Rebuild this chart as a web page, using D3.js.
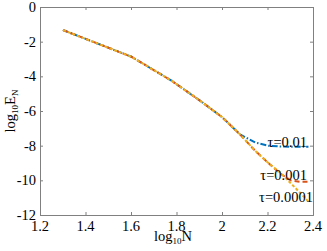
<!DOCTYPE html>
<html>
<head>
<meta charset="utf-8">
<script src="https://cdn.jsdelivr.net/npm/d3@7"></script>
<style>
  body { margin: 0; background: #fff; }
  svg text { font-family: "Liberation Serif", "Times New Roman", serif; fill: #000; }
</style>
</head>
<body>
<script>
// log10 N values (N = 20, 40, ..., 240)
var logN = [1.301, 1.602, 1.778, 1.903, 2.0, 2.079, 2.146, 2.204, 2.255, 2.301, 2.342, 2.380];

// log10 E_N for each tau
var err001   = [-1.33, -2.87, -4.25, -5.4, -6.35, -7.35, -7.82, -8.0, -8.05, -8.06, -8.06, -8.06];
var err0001  = [-1.33, -2.87, -4.25, -5.4, -6.35, -7.35, -8.3, -9.0, -9.6, -10.0, -10.08, -10.08];
var err00001 = [-1.33, -2.87, -4.25, -5.4, -6.35, -7.35, -8.3, -9.0, -9.55, -10.15, -10.7, -11.23];

var xTicks = [1.2, 1.4, 1.6, 1.8, 2, 2.2, 2.4];
var yTicks = [0, -2, -4, -6, -8, -10, -12];

var w = 327, h = 251;
// plot box (note: "top" is reserved on window, so use other names)
var pL = 40, pR = 313, pT = 7, pB = 215;

var x = d3.scaleLinear().domain([1.2, 2.4]).range([pL, pR]);
var y = d3.scaleLinear().domain([-12, 0]).range([pB, pT]);

var svg = d3.select("body").append("svg")
    .attr("width", w)
    .attr("height", h);

var axisColor = "#808080";
var serif = "Liberation Serif, Times New Roman, serif";

// axes (ticks inward, box all round)
svg.append("g")
    .attr("transform", "translate(0," + pB + ")")
    .call(d3.axisBottom(x).tickValues(xTicks).tickSize(-3).tickFormat(""));
svg.append("g")
    .attr("transform", "translate(0," + pT + ")")
    .call(d3.axisTop(x).tickValues(xTicks).tickSize(-3).tickFormat(""));
svg.append("g")
    .attr("transform", "translate(" + pL + ",0)")
    .call(d3.axisLeft(y).tickValues(yTicks).tickSize(-3).tickFormat(""));
svg.append("g")
    .attr("transform", "translate(" + pR + ",0)")
    .call(d3.axisRight(y).tickValues(yTicks).tickSize(-3).tickFormat(""));
svg.selectAll(".domain, .tick line").attr("stroke", axisColor);

// tick labels
svg.selectAll(".xlab")
    .data(xTicks)
    .enter().append("text")
    .attr("x", function(d) { return x(d); })
    .attr("y", 231)
    .attr("text-anchor", "middle")
    .attr("font-family", serif)
    .style("font-size", "14.5px")
    .text(function(d) { return d; });

svg.selectAll(".ylab")
    .data(yTicks)
    .enter().append("text")
    .attr("x", 36)
    .attr("y", function(d) { return y(d) + 5; })
    .attr("text-anchor", "end")
    .attr("font-family", serif)
    .style("font-size", "14.5px")
    .text(function(d) { return d; });

// axis titles
var xt = svg.append("text")
    .attr("x", 173)
    .attr("y", 241)
    .attr("text-anchor", "middle")
    .attr("font-family", serif)
    .style("font-size", "14.5px");
xt.append("tspan").text("log");
xt.append("tspan").attr("dy", 3).style("font-size", "9px").text("10");
xt.append("tspan").attr("dy", -3).text("N");

var yt = svg.append("text")
    .attr("transform", "translate(15,111) rotate(-90)")
    .attr("text-anchor", "middle")
    .attr("font-family", serif)
    .style("font-size", "14.5px");
yt.append("tspan").text("log");
yt.append("tspan").attr("dy", 3).style("font-size", "9px").text("10");
yt.append("tspan").attr("dy", -3).text("E");
yt.append("tspan").attr("dy", 3).style("font-size", "9px").text("N");

// lines
var line = d3.line()
    .x(function(d) { return x(d[0]); })
    .y(function(d) { return y(d[1]); });

var series = [
    { vals: err001,   color: "#0072BD", dash: "6,2,1.5,2" },
    { vals: err0001,  color: "#D95319", dash: "5,3" },
    { vals: err00001, color: "#EDB120", dash: "3,2" }
];

series.forEach(function(s) {
    svg.append("path")
        .datum(d3.zip(logN, s.vals))
        .attr("d", line)
        .attr("fill", "none")
        .attr("stroke", s.color)
        .attr("stroke-width", 2)
        .attr("stroke-dasharray", s.dash);
});

// tau labels
var tauLabels = [
    { t: "\u03c4=0.01",   x: 307, y: 146.5 },
    { t: "\u03c4=0.001",  x: 307, y: 180 },
    { t: "\u03c4=0.0001", x: 313, y: 201.5 }
];
svg.selectAll(".tau")
    .data(tauLabels)
    .enter().append("text")
    .attr("x", function(d) { return d.x; })
    .attr("y", function(d) { return d.y; })
    .attr("text-anchor", "end")
    .attr("font-family", serif)
    .style("font-size", "14.5px")
    .text(function(d) { return d.t; });
</script>
</body>
</html>
